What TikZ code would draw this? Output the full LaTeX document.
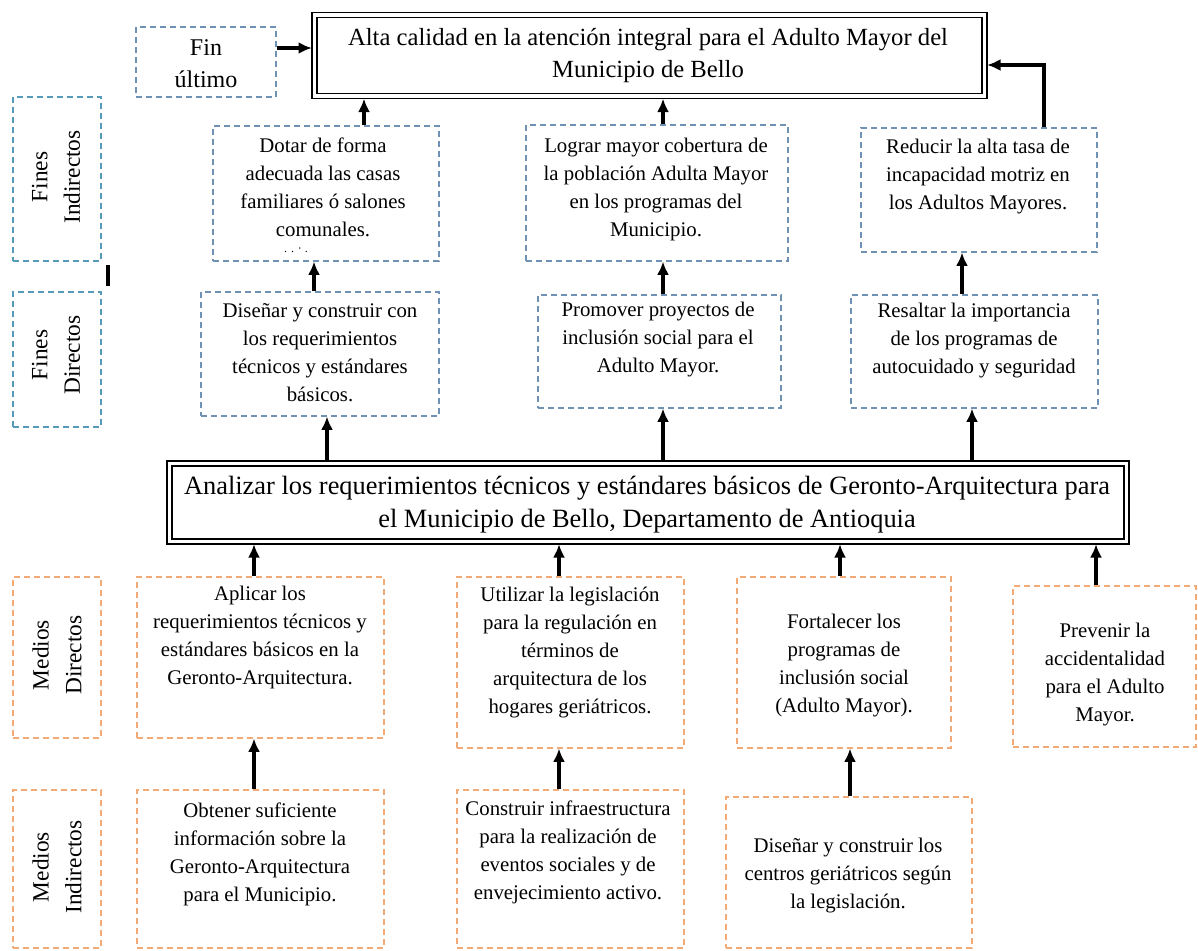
\documentclass[tikz,border=0pt]{standalone}
\usepackage{fontspec}
\setmainfont{Liberation Serif}
\usepackage{xcolor}
\usepackage{tikz}
\usetikzlibrary{calc, arrows.meta, positioning}

\definecolor{finblue}{RGB}{110,145,180}
\definecolor{finlabel}{RGB}{85,155,185}
\definecolor{medorange}{RGB}{242,170,118}

\tikzset{wh/.style 2 args={minimum width=#1*0.75pt, minimum height=#2*0.75pt}}

\begin{document}
\begin{tikzpicture}[x=0.75pt, y=-0.75pt]
		\tikzstyle{finbox} = [draw=finblue, dash pattern=on 4.5pt off 3pt, line width=0.8pt, inner sep=0pt]
		\tikzstyle{finlbl} = [draw=finlabel, dash pattern=on 4.5pt off 3pt, line width=0.8pt, inner sep=0pt]
		\tikzstyle{medbox} = [draw=medorange, dash pattern=on 4.5pt off 3pt, line width=0.8pt, inner sep=0pt]
		\tikzstyle{goal} = [draw=black, double, double distance=2.6pt, line width=1.1pt, inner sep=0pt, outer sep=2pt]
		\tikzstyle{txt} = [align=center, inner sep=0pt, font=\fontsize{15.6}{21}\selectfont]
		\tikzstyle{side} = [align=center, inner sep=0pt, rotate=90, font=\fontsize{17.5}{24.5}\selectfont]
		\tikzstyle{arrow} = [line width=2.6pt, -{Latex[length=10pt,width=9pt]}]
		
		\useasboundingbox (0,0) rectangle (1198,950);
		
		% fines
		\node[finbox, wh={140}{70}]		at (206, 62)		(fin)	{};
		\node[goal, wh={670}{81}]		at (649.5, 55.5)	(top)	{};
		\node[finlbl, wh={88}{164}]		at (57, 179)		(fil)	{};
		\node[finlbl, wh={88}{135}]		at (57, 359.5)		(fdl)	{};
		\node[finbox, wh={226}{135}]	at (326, 193.5)		(fi1)	{};
		\node[finbox, wh={262}{136}]	at (657, 193)		(fi2)	{};
		\node[finbox, wh={236}{124}]	at (979, 190)		(fi3)	{};
		\node[finbox, wh={238}{124}]	at (320, 354)		(fd1)	{};
		\node[finbox, wh={243}{113}]	at (659.5, 351.5)	(fd2)	{};
		\node[finbox, wh={247}{113}]	at (974.5, 351.5)	(fd3)	{};
		
		% objetivo central
		\node[goal, wh={957}{78}]		at (648, 502.5)		(cen)	{};
		
		% medios
		\node[medbox, wh={88}{161}]		at (57, 657.5)		(mdl)	{};
		\node[medbox, wh={88}{158}]		at (57, 869)		(mil)	{};
		\node[medbox, wh={247}{161}]	at (260.5, 657.5)	(md1)	{};
		\node[medbox, wh={227}{171}]	at (570.5, 662.5)	(md2)	{};
		\node[medbox, wh={214}{171}]	at (844, 662.5)		(md3)	{};
		\node[medbox, wh={183}{161}]	at (1104.5, 666.5)	(md4)	{};
		\node[medbox, wh={247}{158}]	at (260.5, 869)		(mi1)	{};
		\node[medbox, wh={227}{158}]	at (570.5, 869)		(mi2)	{};
		\node[medbox, wh={246}{151}]	at (849, 872.5)		(mi3)	{};
		
		% textos
		\node[txt, font=\fontsize{18}{24}\selectfont]	at (206, 64)	(fint)	{Fin\\último};
		\node[txt, font=\fontsize{18.5}{24}\selectfont]	at (648, 56)	(topt)	{Alta calidad en la atención integral para el Adulto Mayor del\\Municipio de Bello};
		\node[side]	at (56, 177)	(filt)	{Fines\\Indirectos};
		\node[side]	at (56, 355)	(fdlt)	{Fines\\Directos};
		\node[side]	at (57, 655)	(mdlt)	{Medios\\Directos};
		\node[side]	at (57, 867)	(milt)	{Medios\\Indirectos};
		\node[txt]	at (323, 187)	(fi1t)	{Dotar de forma\\adecuada las casas\\familiares ó salones\\comunales.};
		\node[txt, font=\fontsize{9}{9}\selectfont]	at (296, 250)	(fi1d)	{. . · .};
		\node[txt]	at (656, 189)	(fi2t)	{Lograr mayor cobertura de\\la población Adulta Mayor\\en los programas del\\Municipio.};
		\node[txt]	at (978, 177)	(fi3t)	{Reducir la alta tasa de\\incapacidad motriz en\\los Adultos Mayores.};
		\node[txt]	at (320, 353)	(fd1t)	{Diseñar y construir con\\los requerimientos\\técnicos y estándares\\básicos.};
		\node[txt]	at (658, 340)	(fd2t)	{Promover proyectos de\\inclusión social para el\\Adulto Mayor.};
		\node[txt]	at (974, 341)	(fd3t)	{Resaltar la importancia\\de los programas de\\autocuidado y seguridad};
		\node[txt, font=\fontsize{19.8}{24.75}\selectfont]	at (647, 505)	(cent)	{Analizar los requerimientos técnicos y estándares básicos de Geronto-Arquitectura para\\el Municipio de Bello, Departamento de Antioquia};
		\node[txt]	at (260, 637)	(md1t)	{Aplicar los\\requerimientos técnicos y\\estándares básicos en la\\Geronto-Arquitectura.};
		\node[txt]	at (570, 652)	(md2t)	{Utilizar la legislación\\para la regulación en\\términos de\\arquitectura de los\\hogares geriátricos.};
		\node[txt]	at (844, 666)	(md3t)	{Fortalecer los\\programas de\\inclusión social\\(Adulto Mayor).};
		\node[txt]	at (1105, 675)	(md4t)	{Prevenir la\\accidentalidad\\para el Adulto\\Mayor.};
		\node[txt]	at (260, 854)	(mi1t)	{Obtener suficiente\\información sobre la\\Geronto-Arquitectura\\para el Municipio.};
		\node[txt]	at (568, 852)	(mi2t)	{Construir infraestructura\\para la realización de\\eventos sociales y de\\envejecimiento activo.};
		\node[txt]	at (848, 876)	(mi3t)	{Diseñar y construir los\\centros geriátricos según\\la legislación.};
		
		% marca suelta
		\draw[line width=2.4pt] (108, 265) -- (108, 286);
		
		% flechas
		\draw[arrow] (fin.east |- 0,48) -- (top.west |- 0,48);
		\draw[arrow] (fi1.north -| 364,0) -- (top.south -| 364,0);
		\draw[arrow] (fi2.north -| 663,0) -- (top.south -| 663,0);
		\draw[arrow] (fi3.north -| 1044,0) |- (top.east |- 0,65);
		\draw[arrow] (fd1.north -| 314,0) -- (fi1.south -| 314,0);
		\draw[arrow] (fd2.north -| 663,0) -- (fi2.south -| 663,0);
		\draw[arrow] (fd3.north -| 962,0) -- (fi3.south -| 962,0);
		\draw[arrow] (cen.north -| 327,0) -- (fd1.south -| 327,0);
		\draw[arrow] (cen.north -| 663,0) -- (fd2.south -| 663,0);
		\draw[arrow] (cen.north -| 972,0) -- (fd3.south -| 972,0);
		\draw[arrow] (md1.north -| 254,0) -- (cen.south -| 254,0);
		\draw[arrow] (md2.north -| 559,0) -- (cen.south -| 559,0);
		\draw[arrow] (md3.north -| 840,0) -- (cen.south -| 840,0);
		\draw[arrow] (md4.north -| 1096,0) -- (cen.south -| 1096,0);
		\draw[arrow] (mi1.north -| 254,0) -- (md1.south -| 254,0);
		\draw[arrow] (mi2.north -| 559,0) -- (md2.south -| 559,0);
		\draw[arrow] (mi3.north -| 850,0) -- (md3.south -| 850,0);
	\end{tikzpicture}
\end{document}
